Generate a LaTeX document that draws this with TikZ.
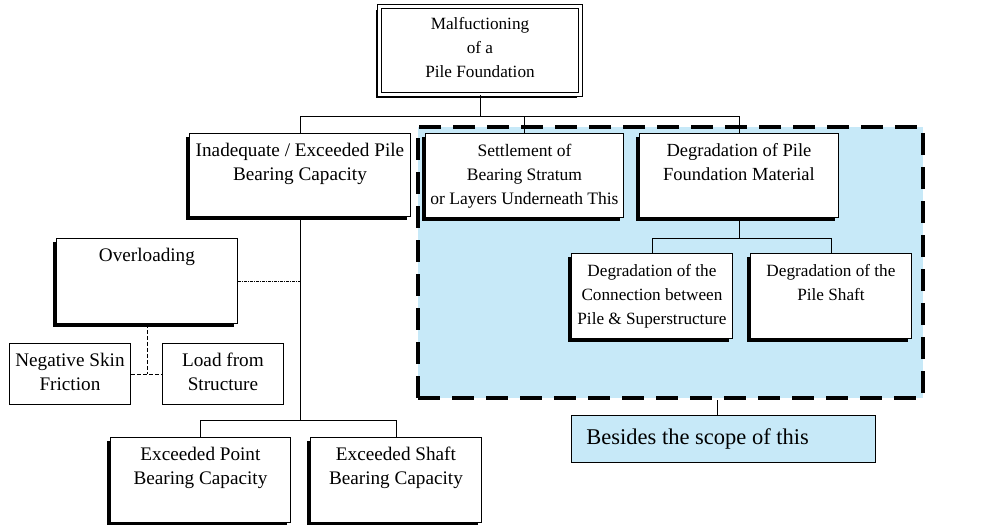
\documentclass[tikz,border=0pt]{standalone}
\usepackage{fontspec}
\setmainfont{Liberation Serif}
\usepackage{tikz}
\usetikzlibrary{shadows}
\definecolor{outblue}{RGB}{199,233,248}
\newcommand{\boxtext}[3]{\parbox[c][#2][t]{#1}{\centering\rule{0pt}{23pt}#3}}
\tikzset{
  cause/.style={draw, fill=white, line width=0.9pt, inner sep=0pt, anchor=north west,
    font=\fontsize{17.2}{24}\selectfont},
  wide/.style={font=\fontsize{#1}{24}\selectfont},
  shadowed/.style={drop shadow={shadow xshift=-3.5pt, shadow yshift=-3.5pt, fill=black, opacity=1}},
  link/.style={line width=0.8pt},
  dotlink/.style={line width=0.8pt, dash pattern=on 3pt off 1pt on 1pt off 1pt},
  dashlink/.style={line width=0.8pt, dash pattern=on 4pt off 2pt}
}

\begin{document}
\begin{tikzpicture}[x=1pt,y=-1pt]
\useasboundingbox (0,0) rectangle (986,525);

\node[draw, fill=outblue, line width=4pt, dash pattern=on 22pt off 12pt, inner sep=0pt,
  minimum width=505pt, minimum height=271pt, anchor=north west] (beyond) at (416,125) {};

\node[cause, shadowed, double, double distance=2.5pt, line width=1pt] (top) at (379,6)
  {\boxtext{201pt}{88pt}{Malfuctioning\\of a\\Pile Foundation}};
\node[cause, shadowed, wide=19.2] (inad) at (189,133) {\boxtext{221pt}{83pt}{Inadequate / Exceeded Pile\\Bearing Capacity}};
\node[cause, shadowed, wide=17.5] (settle) at (425,133) {\boxtext{198pt}{84pt}{Settlement of\\Bearing Stratum\\or Layers Underneath This}};
\node[cause, shadowed, wide=18.5] (degr) at (639,133) {\boxtext{199pt}{84pt}{Degradation of Pile\\Foundation Material}};
\node[cause, shadowed] (conn) at (571,253) {\boxtext{161pt}{85pt}{Degradation of the\\Connection between\\Pile \& Superstructure}};
\node[cause, shadowed] (shaft) at (750,253) {\boxtext{161pt}{85pt}{Degradation of the\\Pile Shaft}};
\node[cause, shadowed, wide=19.2] (ovl) at (56,238) {\boxtext{181pt}{85pt}{Overloading}};
\node[cause, wide=19.2] (nsf) at (9,343) {\boxtext{121pt}{61pt}{Negative Skin\\Friction}};
\node[cause, wide=19.2] (lfs) at (162,343) {\boxtext{121pt}{61pt}{Load from\\Structure}};
\node[cause, shadowed, wide=19.2] (ptcap) at (110,437) {\boxtext{180pt}{85pt}{Exceeded Point\\Bearing Capacity}};
\node[cause, shadowed, wide=19.2] (shcap) at (310,437) {\boxtext{171pt}{85pt}{Exceeded Shaft\\Bearing Capacity}};
\node[cause, fill=outblue, font=\fontsize{22.5}{27}\selectfont] (besides) at (571,415)
  {\parbox[c][47pt][c]{304pt}{\hspace*{15pt}Besides the scope of this}};

\draw[link] (top.south) -- ++(0,21) -| (inad.north);
\draw[link] (top.south) -- ++(0,21) -| (settle.north);
\draw[link] (top.south) -- ++(0,21) -| (degr.north);
\draw[link] (degr.south) -- ++(0,20) -| (conn.north);
\draw[link] (degr.south) -- ++(0,20) -| (shaft.north);
\draw[link] (inad.south) -- (inad.south |- 0,420) -| (ptcap.north);
\draw[link] (inad.south) -- (inad.south |- 0,420) -| (shcap.north);
\draw[dotlink] (ovl.east) -- (ovl.east -| inad.south);
\draw[dashlink] (ovl.south) -- (ovl.south |- nsf.east);
\draw[dashlink] (nsf.east) -- (lfs.west);
\draw[link] ([xshift=-6pt]besides.north) -- ([xshift=-6pt]besides.north |- beyond.south);
\end{tikzpicture}
\end{document}
